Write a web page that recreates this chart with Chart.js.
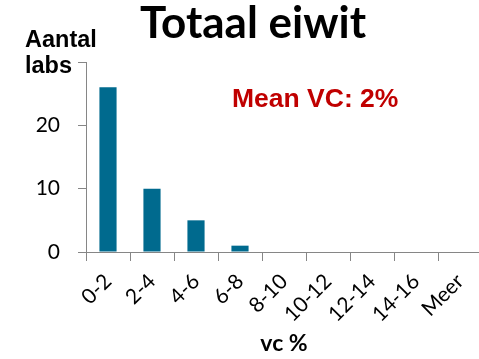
<!DOCTYPE html>
<html>
<head>
<meta charset="utf-8">
<script src="https://cdn.jsdelivr.net/npm/chart.js@4/dist/chart.umd.min.js"></script>
<style>
  html, body { margin: 0; padding: 0; background: #fff; overflow: hidden; }
  #wrap { width: 479px; height: 359px; overflow: hidden; position: relative; }
  canvas { display: block; }
</style>
</head>
<body>
<div id="wrap"><canvas id="c" width="500" height="359"></canvas></div>
<script>
// Histogram of lab variation coefficients
const categories = ['0-2', '2-4', '4-6', '6-8', '8-10', '10-12', '12-14', '14-16', 'Meer'];
const labCounts = [26, 10, 5, 1, 0, 0, 0, 0, 0];
const yTicks = [0, 10, 20, 30];
const yTickLabels = ['0', '10', '20', ''];

const chartTitle = 'Totaal eiwit';
const yAxisTitle = ['Aantal', 'labs'];
const xAxisTitle = 'vc %';
const meanNote = 'Mean VC: 2%';

const axisGray = '#868686';

const textOverlay = {
  id: 'textOverlay',
  afterDraw(chart) {
    const ctx = chart.ctx;
    ctx.save();
    ctx.textBaseline = 'alphabetic';

    ctx.fillStyle = '#000';
    ctx.font = 'bold 44px Lato';
    ctx.textAlign = 'center';
    ctx.fillText(chartTitle, 253, 38);

    ctx.font = 'bold 23.5px "Liberation Sans"';
    ctx.textAlign = 'left';
    ctx.fillText(yAxisTitle[0], 25, 47);
    ctx.fillText(yAxisTitle[1], 25, 73);

    ctx.fillStyle = '#C00000';
    ctx.font = 'bold 26.5px "Liberation Sans"';
    ctx.fillText(meanNote, 232, 107);
    ctx.restore();
  }
};

new Chart(document.getElementById('c'), {
  type: 'bar',
  data: {
    labels: categories,
    datasets: [{
      data: labCounts,
      backgroundColor: '#006A8E',
      borderWidth: 0,
      barPercentage: 0.39,
      categoryPercentage: 1
    }]
  },
  options: {
    responsive: false,
    devicePixelRatio: 1,
    animation: false,
    layout: { padding: { top: 62, right: 18, left: 0, bottom: 0 } },
    plugins: { legend: { display: false }, tooltip: { enabled: false }, title: { display: false } },
    scales: {
      x: {
        afterFit(scale) { scale.height = 107; },
        grid: { display: true, drawOnChartArea: false, drawTicks: true, tickLength: 9, color: axisGray, offset: true },
        border: { display: true, color: axisGray, width: 1 },
        ticks: {
          color: '#000',
          font: { family: 'Lato', size: 21 },
          minRotation: 45, maxRotation: 45,
          padding: 8,
          autoSkip: false
        },
        title: {
          display: true, text: xAxisTitle, color: '#000',
          font: { family: 'Lato', size: 23, weight: 'bold' },
          padding: { top: 0, bottom: 2 }
        }
      },
      y: {
        min: 0, max: 30,
        afterFit(scale) { scale.width = 86; },
        afterBuildTicks(scale) { scale.ticks = yTicks.map(v => ({ value: v })); },
        grid: { display: true, drawOnChartArea: false, drawTicks: true, tickLength: 8, color: axisGray },
        border: { display: true, color: axisGray, width: 1 },
        ticks: {
          color: '#000',
          font: { family: 'Lato', size: 21 },
          padding: 18,
          callback: (v) => yTickLabels[yTicks.indexOf(v)]
        }
      }
    }
  },
  plugins: [textOverlay]
});
</script>
</body>
</html>
